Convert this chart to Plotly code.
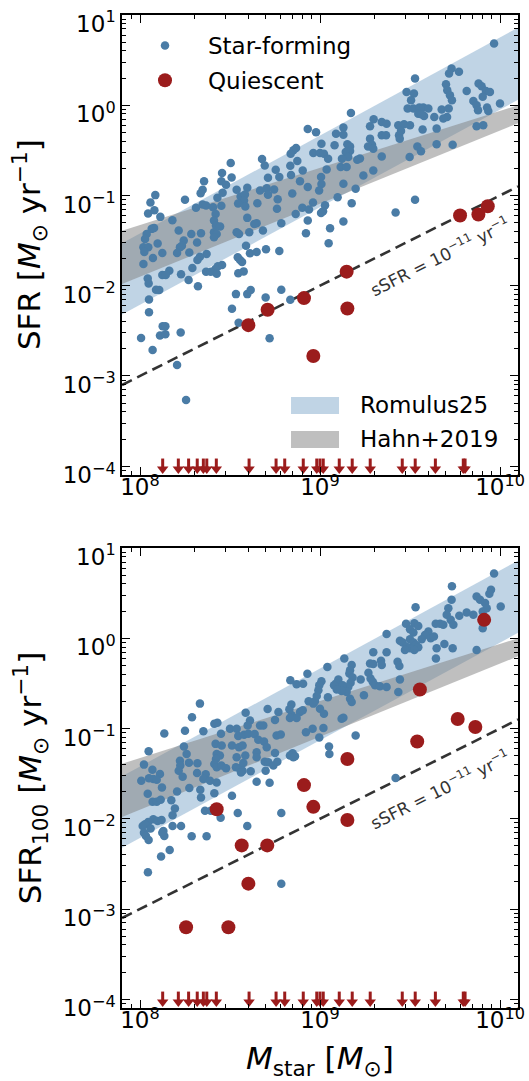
import numpy as np
import plotly.graph_objects as go

# ---------------- data (log10 values) ----------------
# top panel: SFR (instantaneous), star-forming galaxies
sf_top_logm = [
    8.932, 8.978, 9.008, 8.963, 9.000, 9.022, 9.045, 8.852, 8.837, 8.867,
    8.874, 8.678, 8.693, 8.504, 8.835, 8.904, 9.037, 8.754, 8.456, 8.839,
    8.711, 8.774, 8.509, 8.356, 8.452, 8.478, 8.889, 9.006, 9.008, 8.995,
    8.932, 8.348, 8.337, 8.537, 8.596, 8.667, 8.704, 8.745, 8.085, 8.250,
    8.430, 8.459, 8.559, 8.583, 8.578, 8.711, 8.846, 8.058, 8.545, 8.585,
    8.765, 8.348, 8.367, 8.311, 8.452, 8.045, 8.080, 8.113, 8.652, 8.961,
    9.028, 8.902, 8.939, 8.761, 8.865, 9.017, 9.006, 9.056, 8.406, 8.420,
    8.411, 8.596, 8.180, 8.648, 8.635, 8.932, 8.785, 8.422, 8.445, 8.411,
    8.426, 8.215, 8.065, 8.078, 8.037, 8.285, 8.339, 8.537, 8.550, 8.607,
    8.683, 8.922, 8.028, 8.243, 8.317, 8.411, 8.098, 8.589, 9.048, 8.019,
    8.046, 8.024, 8.233, 8.222, 8.700, 8.774, 8.124, 8.072, 8.206, 8.274,
    8.370, 8.333, 8.319, 8.611, 8.648, 8.543, 8.556, 8.567, 8.019, 8.291,
    8.456, 8.433, 8.419, 8.163, 8.124, 8.143, 8.228, 8.367, 8.393, 8.426,
    8.546, 8.576, 8.043, 8.048, 8.270, 8.322, 8.089, 8.107, 8.050, 8.533,
    8.596, 8.615, 8.698, 8.785, 8.835, 8.050, 8.511, 8.548, 8.126, 8.141,
    8.111, 8.141, 8.006, 8.226, 8.070, 8.720, 8.206, 8.256,
    9.967, 9.731, 9.717, 9.772, 9.528, 9.481, 9.522, 9.506, 9.700, 9.707,
    9.722, 9.733, 9.881, 9.898, 9.922, 9.944, 9.904, 9.815, 9.852, 9.870,
    9.878, 10.000, 9.928, 9.935, 9.487, 9.519, 9.552, 9.574, 9.602, 9.546,
    9.578, 9.563, 9.676, 9.635, 9.648, 9.715, 9.706, 9.685, 9.172, 9.298,
    9.278, 9.343, 9.370, 9.089, 9.130, 9.130, 9.435, 9.467, 9.500, 9.450,
    9.439, 9.443, 9.343, 9.367, 9.278, 9.570, 9.870, 9.907, 9.289, 9.267,
    9.296, 9.081, 9.152, 9.167, 9.167, 9.143, 9.157, 9.648, 9.737, 9.541,
    9.561, 9.122, 9.115, 9.148, 9.222, 9.207, 9.343, 9.498, 9.241, 9.296,
    9.130, 9.198, 9.098, 9.176, 9.528, 9.420, 9.130,
]
sf_top_logsfr = [
    -0.263, -0.300, -0.426, -0.530, -0.530, -0.537, -0.593, -0.500, -0.537, -0.474,
    -0.619, -0.596, -0.667, -0.641, -0.670, -0.722, -0.711, -0.715, -0.752, -0.774,
    -0.804, -0.796, -0.800, -0.841, -0.841, -0.882, -0.841, -0.796, -0.874, -0.944,
    -0.907, -0.937, -0.974, -0.937, -0.915, -0.944, -0.919, -0.933, -0.996, -1.048,
    -1.026, -0.970, -1.011, -0.989, -1.056, -0.993, -0.978, -1.078, -1.089, -1.122,
    -1.041, -1.100, -1.111, -1.137, -1.115, -1.200, -1.163, -1.237, -1.085, -1.078,
    -1.107, -1.137, -1.156, -1.148, -1.204, -1.174, -1.193, -1.363, -1.130, -1.204,
    -1.278, -1.248, -1.274, -1.307, -1.315, -1.278, -1.307, -1.333, -1.344, -1.407,
    -1.426, -1.389, -1.370, -1.359, -1.426, -1.426, -1.419, -1.407, -1.426, -1.407,
    -1.389, -1.419, -1.481, -1.500, -1.522, -1.463, -1.533, -1.556, -1.530, -1.574,
    -1.574, -1.626, -1.556, -1.574, -1.596, -1.615, -1.637, -1.693, -1.637, -1.633,
    -1.648, -1.678, -1.715, -1.641, -1.626, -1.685, -1.715, -1.737, -1.759, -1.804,
    -1.770, -1.785, -1.815, -1.833, -1.882, -1.882, -1.874, -1.844, -1.844, -1.867,
    -1.863, -1.841, -1.919, -1.974, -1.937, -2.007, -2.044, -2.048, -2.152, -2.093,
    -2.093, -2.048, -2.130, -2.044, -2.156, -2.293, -2.256, -2.411, -2.448, -2.448,
    -2.552, -2.537, -2.578, -2.519, -2.711, -2.582, -2.878, -3.267,
    0.685, 0.407, 0.352, 0.370, 0.296, 0.148, 0.130, 0.056, 0.233, 0.167,
    0.111, 0.056, 0.241, 0.211, 0.159, 0.148, 0.093, 0.159, 0.048, 0.000,
    -0.056, 0.019, -0.026, -0.063, -0.037, -0.037, -0.026, -0.026, -0.037, -0.093,
    -0.119, -0.100, -0.048, -0.130, -0.259, -0.037, -0.130, -0.148, -0.085, -0.156,
    -0.233, -0.185, -0.204, -0.315, -0.248, -0.326, -0.222, -0.211, -0.222, -0.285,
    -0.333, -0.370, -0.333, -0.333, -0.370, -0.270, -0.233, -0.222, -0.437, -0.456,
    -0.481, -0.444, -0.433, -0.456, -0.507, -0.519, -0.574, -0.433, -0.437, -0.456,
    -0.511, -0.593, -0.685, -0.685, -0.589, -0.604, -0.567, -0.574, -0.778, -0.722,
    -0.870, -0.926, -1.019, -1.085, -1.048, -1.189, -1.289,
]
q_top_logm = [8.602, 8.709, 8.911, 9.148, 9.152, 8.963, 9.778, 9.880, 9.932]
q_top_logsfr = [-2.437, -2.267, -2.137, -1.844, -2.252, -2.778, -1.222, -1.211, -1.119]

# bottom panel: SFR averaged over 100 Myr
sf_bot_logm = [
    9.041, 9.008, 8.996, 8.991, 8.982, 8.972, 8.937, 8.963, 8.835, 8.870,
    8.906, 8.930, 9.044, 8.333, 8.289, 8.841, 8.830, 8.843, 8.889, 8.904,
    8.870, 8.833, 8.709, 8.769, 8.587, 8.611, 8.598, 8.750, 9.000, 9.022,
    9.019, 8.996, 8.922, 8.959, 8.413, 8.430, 8.352, 8.250, 8.135, 8.500,
    8.537, 8.450, 8.546, 8.578, 8.602, 8.637, 8.667, 8.685, 8.759, 8.782,
    8.657, 8.689, 8.704, 9.050, 9.052, 8.848, 8.833, 8.852, 8.861, 8.244,
    8.259, 8.420, 8.454, 8.426, 8.444, 8.422, 8.511, 8.550, 8.570, 8.648,
    8.648, 8.750, 8.048, 8.222, 8.224, 8.215, 8.237, 8.272, 8.319, 8.413,
    8.426, 8.452, 8.478, 8.537, 8.533, 8.552, 8.574, 8.585, 8.693, 8.713,
    8.741, 8.763, 8.615, 8.022, 8.069, 8.074, 8.111, 8.093, 8.050, 8.007,
    8.317, 8.365, 8.570, 8.561, 8.698, 8.352, 8.389, 8.426, 8.648, 8.720,
    8.043, 8.122, 8.274, 8.335, 8.339, 8.206, 8.413, 8.511, 8.070, 8.093,
    8.115, 8.174, 8.194, 8.181, 8.361, 8.393, 8.448, 8.543, 8.785, 8.074,
    8.046, 8.028, 8.015, 8.059, 8.022, 8.033, 8.048, 8.098, 8.120, 8.130,
    8.135, 8.124, 8.181, 8.228, 8.287, 8.370, 8.596, 8.117, 8.165, 8.044,
    8.785,
    9.967, 9.733, 9.950, 9.941, 9.870, 9.889, 9.917, 9.926, 9.904, 10.004,
    9.731, 9.531, 9.713, 9.704, 9.726, 9.741, 9.685, 9.667, 9.643, 9.815,
    9.852, 9.774, 9.478, 9.524, 9.546, 9.500, 9.519, 9.370, 9.602, 9.583,
    9.565, 9.615, 9.633, 9.444, 9.459, 9.500, 9.519, 9.533, 9.546, 9.524,
    9.500, 9.481, 9.472, 9.648, 9.644, 9.691, 9.737, 9.870, 9.904, 9.296,
    9.370, 9.278, 9.296, 9.339, 9.343, 9.431, 9.441, 9.135, 9.269, 9.281,
    9.293, 9.306, 9.333, 9.370, 9.244, 9.435, 9.444, 9.226, 9.176, 9.167,
    9.163, 9.181, 9.170, 9.157, 9.148, 9.167, 9.176, 9.102, 9.089, 9.078,
    9.126, 9.120, 9.093, 9.120, 9.130, 9.198, 9.420,
]
sf_bot_logsfr = [
    -0.319, -0.475, -0.520, -0.576, -0.639, -0.698, -0.698, -0.724, -0.464, -0.509,
    -0.505, -0.394, -0.654, -0.724, -0.876, -0.735, -0.787, -0.854, -0.817, -0.798,
    -0.884, -0.884, -0.784, -0.817, -0.824, -0.910, -0.966, -0.906, -0.780, -0.836,
    -0.995, -1.099, -1.040, -1.003, -0.947, -0.936, -1.029, -1.025, -1.055, -1.003,
    -1.003, -1.058, -1.084, -1.070, -1.058, -1.062, -0.966, -0.966, -1.077, -1.066,
    -1.125, -1.144, -1.207, -1.200, -1.281, -1.274, -1.300, -1.318, -1.307, -1.200,
    -1.281, -1.170, -1.189, -1.281, -1.300, -1.337, -1.189, -1.207, -1.189, -1.263,
    -1.318, -1.270, -1.251, -1.356, -1.411, -1.467, -1.534, -1.378, -1.385, -1.393,
    -1.430, -1.411, -1.441, -1.318, -1.430, -1.441, -1.382, -1.300, -1.367, -1.374,
    -1.411, -1.367, -1.474, -1.400, -1.456, -1.560, -1.504, -1.567, -1.552, -1.578,
    -1.493, -1.508, -1.467, -1.486, -1.467, -1.560, -1.578, -1.597, -1.590, -1.601,
    -1.723, -1.653, -1.660, -1.679, -1.764, -1.697, -1.716, -1.745, -1.812, -1.812,
    -1.790, -1.794, -1.887, -1.961, -1.912, -1.912, -1.990, -1.935, -1.935, -2.005,
    -2.035, -2.061, -2.080, -2.109, -2.154, -2.191, -2.236, -2.024, -2.013, -2.135,
    -2.191, -2.154, -2.080, -2.080, -2.195, -2.195, -2.080, -2.418, -2.347, -2.592,
    -2.719,
    0.717, 0.576, 0.539, 0.494, 0.464, 0.427, 0.390, 0.334, 0.297, 0.353,
    0.427, 0.345, 0.334, 0.260, 0.204, 0.149, 0.149, 0.160, 0.160, 0.286,
    0.260, 0.249, 0.160, 0.167, 0.137, 0.100, 0.063, 0.048, 0.074, 0.037,
    -0.011, 0.000, 0.019, -0.026, -0.048, -0.011, -0.048, -0.074, -0.100, -0.130,
    -0.111, -0.093, -0.130, -0.111, -0.223, -0.063, -0.111, -0.130, 0.111, -0.156,
    -0.156, -0.279, -0.286, -0.249, -0.297, -0.260, -0.308, -0.223, -0.383, -0.446,
    -0.483, -0.520, -0.531, -0.539, -0.631, -0.594, -0.457, -0.457, -0.297, -0.353,
    -0.390, -0.435, -0.494, -0.539, -0.594, -0.669, -0.706, -0.457, -0.501, -0.520,
    -0.520, -0.583, -0.568, -0.891, -0.880, -1.077, -1.549,
]
q_bot_logm = [8.426, 8.565, 8.707, 8.602, 8.256, 8.491, 8.911, 8.963, 9.152,
              9.152, 9.540, 9.555, 9.765, 9.863, 9.912]
q_bot_logsfr = [-1.894, -2.295, -2.295, -2.719, -3.202, -3.202, -1.627, -1.868, -1.337,
                -2.013, -1.143, -0.567, -0.895, -0.983, 0.204]

# quiescent galaxies with SFR = 0 : upper limits drawn at 1e-4
ul_logm = [8.126, 8.213, 8.270, 8.318, 8.352, 8.371, 8.424, 8.606, 8.756, 8.804,
           8.907, 8.982, 9.000, 9.018, 9.107, 9.179, 9.279, 9.457, 9.529, 9.641,
           9.796, 9.806]
ul_sfr = 1e-4

# star-forming main-sequence bands (log M, log SFR lower / upper)
band_logm = [7.9, 10.1]
romulus_lo = [-2.32, 0.06]
romulus_hi = [-1.53, 0.86]
hahn_lo = [-1.98, -0.20]
hahn_hi = [-1.39, 0.00]

ssfr_cut = 1e-11  # yr^-1
xlim_log = [7.9, 10.1]
ylim_log = [np.log10(8e-5), 1.0]
x_tick_exp = [8, 9, 10]
y_tick_exp = [-4, -3, -2, -1, 0, 1]

# ---------------- styling ----------------
FONT = "DejaVu Sans"
BLUE = "#4a7ca6"
RED = "#9b1c1c"
BAND_BLUE = "rgba(70,130,180,0.34)"
BAND_GRAY = "rgba(128,128,128,0.50)"

fig = go.Figure()


def p10(a):
    return 10 ** np.asarray(a, dtype=float)


def add_panel(xa, ya, sf_m, sf_s, q_m, q_s, legend):
    bm = p10(band_logm)
    fig.add_trace(go.Scatter(
        x=np.concatenate([bm, bm[::-1]]),
        y=np.concatenate([p10(romulus_lo), p10(romulus_hi)[::-1]]),
        fill="toself", fillcolor=BAND_BLUE, mode="lines", line=dict(width=0),
        hoverinfo="skip", showlegend=False, xaxis=xa, yaxis=ya))
    fig.add_trace(go.Scatter(
        x=np.concatenate([bm, bm[::-1]]),
        y=np.concatenate([p10(hahn_lo), p10(hahn_hi)[::-1]]),
        fill="toself", fillcolor=BAND_GRAY, mode="lines", line=dict(width=0),
        hoverinfo="skip", showlegend=False, xaxis=xa, yaxis=ya))
    lx = p10(xlim_log)
    fig.add_trace(go.Scatter(
        x=lx, y=ssfr_cut * lx, mode="lines",
        line=dict(color="#333333", width=2.6, dash="11px,6px"),
        hoverinfo="skip", showlegend=False, xaxis=xa, yaxis=ya))
    fig.add_trace(go.Scatter(
        x=p10(sf_m), y=p10(sf_s), mode="markers", name="Star-forming",
        marker=dict(color=BLUE, size=8.5, line=dict(width=0)),
        showlegend=legend, legendgroup="sf", xaxis=xa, yaxis=ya))
    fig.add_trace(go.Scatter(
        x=p10(q_m), y=p10(q_s), mode="markers", name="Quiescent",
        marker=dict(color=RED, size=14, line=dict(width=0)),
        showlegend=legend, legendgroup="q", xaxis=xa, yaxis=ya))
    um = p10(ul_logm)
    sx, sy = [], []
    for m in um:
        sx += [m, m, None]
        sy += [ul_sfr * 10 ** 0.085, ul_sfr * 10 ** -0.01, None]
    fig.add_trace(go.Scatter(
        x=sx, y=sy, mode="lines", line=dict(color=RED, width=3),
        hoverinfo="skip", showlegend=False, xaxis=xa, yaxis=ya))
    fig.add_trace(go.Scatter(
        x=um, y=np.full(len(um), ul_sfr * 10 ** -0.03), mode="markers",
        marker=dict(symbol="triangle-down", color=RED, size=10, line=dict(width=0)),
        hoverinfo="skip", showlegend=False, xaxis=xa, yaxis=ya))


add_panel("x", "y", sf_top_logm, sf_top_logsfr, q_top_logm, q_top_logsfr, True)
add_panel("x2", "y2", sf_bot_logm, sf_bot_logsfr, q_bot_logm, q_bot_logsfr, False)


def pow_labels(exps):
    return ["10<sup>%s</sup>" % (str(e).replace("-", "−")) for e in exps]


axis_common = dict(
    type="log", showline=True, linecolor="black", linewidth=1.5, mirror="allticks",
    ticks="inside", ticklen=8, tickwidth=1.3, tickcolor="black", automargin=False,
    showgrid=False, zeroline=False, ticklabeloverflow="allow",
    tickfont=dict(family=FONT, size=23, color="black"),
    minor=dict(ticks="inside", ticklen=4, tickwidth=1, tickcolor="black",
               dtick="D1", showgrid=False),
)
xticks = dict(tickmode="array", tickvals=list(p10(x_tick_exp)), ticktext=pow_labels(x_tick_exp))
yticks = dict(tickmode="array", tickvals=list(p10(y_tick_exp)), ticktext=pow_labels(y_tick_exp))

TOP_DOM = [0.5368, 1.0]
BOT_DOM = [0.0, 0.4632]

fig.update_layout(
    width=529, height=1081,
    margin=dict(l=122, r=11, t=15, b=73, autoexpand=False),
    paper_bgcolor="white", plot_bgcolor="white",
    font=dict(family=FONT, color="black"),
    xaxis=dict(axis_common, **xticks, domain=[0, 1], anchor="y", range=xlim_log,
               ticklabelstandoff=-9),
    yaxis=dict(axis_common, **yticks, domain=TOP_DOM, anchor="x", range=ylim_log,
               ticklabelstandoff=0, ticklabelshift=9),
    xaxis2=dict(axis_common, **xticks, domain=[0, 1], anchor="y2", range=xlim_log,
                ticklabelstandoff=-9),
    yaxis2=dict(axis_common, **yticks, domain=BOT_DOM, anchor="x2", range=ylim_log,
                ticklabelstandoff=0, ticklabelshift=9),
    legend=dict(x=0.0, y=0.991, xanchor="left", yanchor="top",
                bgcolor="rgba(0,0,0,0)", font=dict(family=FONT, size=23),
                itemwidth=76, tracegroupgap=2, traceorder="grouped"),
    showlegend=True,
)

# axis titles
YT_SIZE = 31
fig.add_annotation(text="SFR [<i>M</i><sub>⊙</sub> yr<sup>−1</sup>]",
                   xref="paper", yref="paper", x=-0.232, y=(TOP_DOM[0] + TOP_DOM[1]) / 2,
                   xanchor="center", yanchor="middle", textangle=-90, showarrow=False,
                   font=dict(family=FONT, size=YT_SIZE))
fig.add_annotation(text="SFR<sub>100</sub> [<i>M</i><sub>⊙</sub> yr<sup>−1</sup>]",
                   xref="paper", yref="paper", x=-0.232, y=(BOT_DOM[0] + BOT_DOM[1]) / 2,
                   xanchor="center", yanchor="middle", textangle=-90, showarrow=False,
                   font=dict(family=FONT, size=YT_SIZE))
fig.add_annotation(text="<i>M</i><sub>star</sub> [<i>M</i><sub>⊙</sub>]",
                   xref="paper", yref="paper", x=0.5, y=-0.053,
                   xanchor="center", yanchor="middle", showarrow=False,
                   font=dict(family=FONT, size=31))

# sSFR line labels
for xr, yr in (("x", "y"), ("x2", "y2")):
    fig.add_annotation(text="sSFR = 10<sup>−11</sup> yr<sup>−1</sup>",
                       xref=xr, yref=yr, x=9.665, y=-1.665, textangle=-26.57,
                       showarrow=False, font=dict(family=FONT, size=17, color="#333333"))

# band legend (top panel, lower right)
band_items = [("Romulus25", BAND_BLUE, 0.1696, 0.1326),
              ("Hahn+2019", BAND_GRAY, 0.0957, 0.0587)]
for label, col, y1, y0 in band_items:
    fig.add_shape(type="rect", xref="x domain", yref="y domain",
                  x0=0.4268, x1=0.548, y0=y0, y1=y1,
                  fillcolor=col, line=dict(width=0), layer="above")
    fig.add_annotation(text=label, xref="x domain", yref="y domain",
                       x=0.596, y=(y0 + y1) / 2, xanchor="left", yanchor="middle",
                       showarrow=False, font=dict(family=FONT, size=23))

fig.write_html("out.html")
